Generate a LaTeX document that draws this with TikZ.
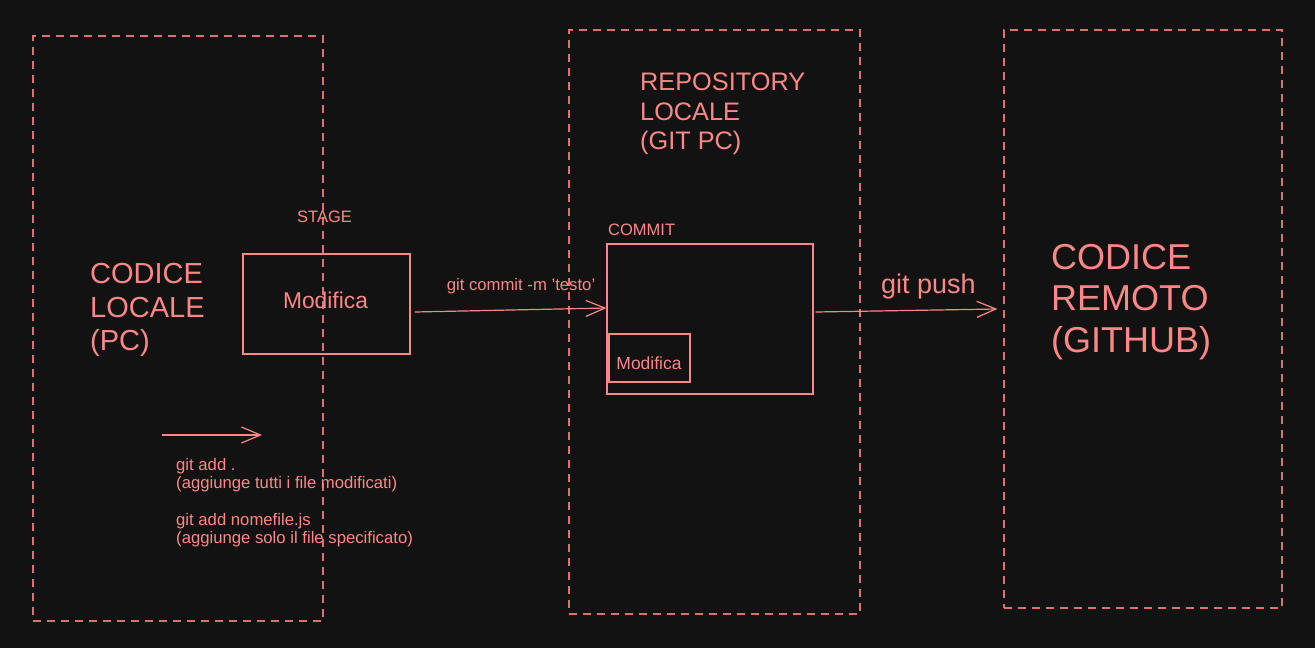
\documentclass[tikz,border=0pt]{standalone}
\usepackage{fontspec}
\setmainfont{Liberation Sans}
\usetikzlibrary{arrows.meta}
\definecolor{bg}{HTML}{121212}
\definecolor{ink}{HTML}{FF8787}
\definecolor{dashc}{HTML}{D97272}
\begin{document}
\begin{tikzpicture}[x=1pt,y=-1pt,
  region/.style={draw=dashc, dash pattern=on 8pt off 6pt, line width=1.25pt, inner sep=0pt},
  box/.style={draw=ink, line width=1.15pt, inner sep=0pt},
  txt/.style={text=ink, inner sep=0pt},
  arr/.style={draw=ink, line width=1.2pt, -{Straight Barb[length=19pt,width=16pt,line width=1.2pt]}}
]
\useasboundingbox[fill=bg] (0,0) rectangle (1315,648);

% dashed regions
\node[region, minimum width=290pt, minimum height=585pt] (left) at (178,328.5) {};
\node[region, minimum width=291pt, minimum height=584pt] (mid) at (714.5,322) {};
\node[region, minimum width=278pt, minimum height=578pt] (right) at (1143,319) {};

% region titles
\node[txt, anchor=north west, align=left, font=\fontsize{29}{33.4}\selectfont] (loc) at (90,263.5) {CODICE\\LOCALE\\(PC)};
\node[txt, anchor=north west, align=left, font=\fontsize{25.3}{29.3}\selectfont] (repo) at (640,73) {REPOSITORY\\LOCALE\\(GIT PC)};
\node[txt, anchor=north west, align=left, font=\fontsize{36}{41.5}\selectfont] (rem) at (1051,244) {CODICE\\REMOTO\\(GITHUB)};

% stage
\node[box, minimum width=167pt, minimum height=100pt] (stage) at (326.5,304) {};
\node[txt, font=\fontsize{22.8}{26}\selectfont] (stagetxt) at (325.5,300) {Modifica};
\node[txt, font=\fontsize{16.5}{19}\selectfont] (stagelbl) at (324.5,217) {STAGE};

% commit
\node[box, minimum width=206pt, minimum height=150pt] (commit) at (710,319) {};
\node[txt, anchor=west, font=\fontsize{16.5}{19}\selectfont] (commitlbl) at (608,230) {COMMIT};
\node[box, minimum width=81pt, minimum height=48pt] (inner) at (649.5,358) {};
\node[txt, font=\fontsize{17.5}{21}\selectfont] (innertxt) at (649,363) {Modifica};

% arrows
\draw[arr] ([xshift=4pt,yshift=-8pt]stage.east) -- ([yshift=11pt]commit.west);
\node[txt, font=\fontsize{16.7}{19}\selectfont] (commitcmd) at (521,286) {git commit -m 'testo'};
\draw[arr] ([xshift=2pt,yshift=7pt]commit.east) -- ([xshift=-6pt,yshift=10pt]right.west);
\node[txt, font=\fontsize{27}{31}\selectfont] (push) at (928.5,287) {git push};

\coordinate (a1) at (162,435);
\coordinate (a2) at (262,435);
\draw[arr] (a1) -- (a2);
\node[txt, anchor=north west, align=left, font=\fontsize{16.7}{17.6}\selectfont] (addtxt) at (176,458.5)
 {git add .\\(aggiunge tutti i file modificati)\\[1.8pt]\mbox{}\\git add nomefile.js\\(aggiunge solo il file specificato)};
\end{tikzpicture}
\end{document}
